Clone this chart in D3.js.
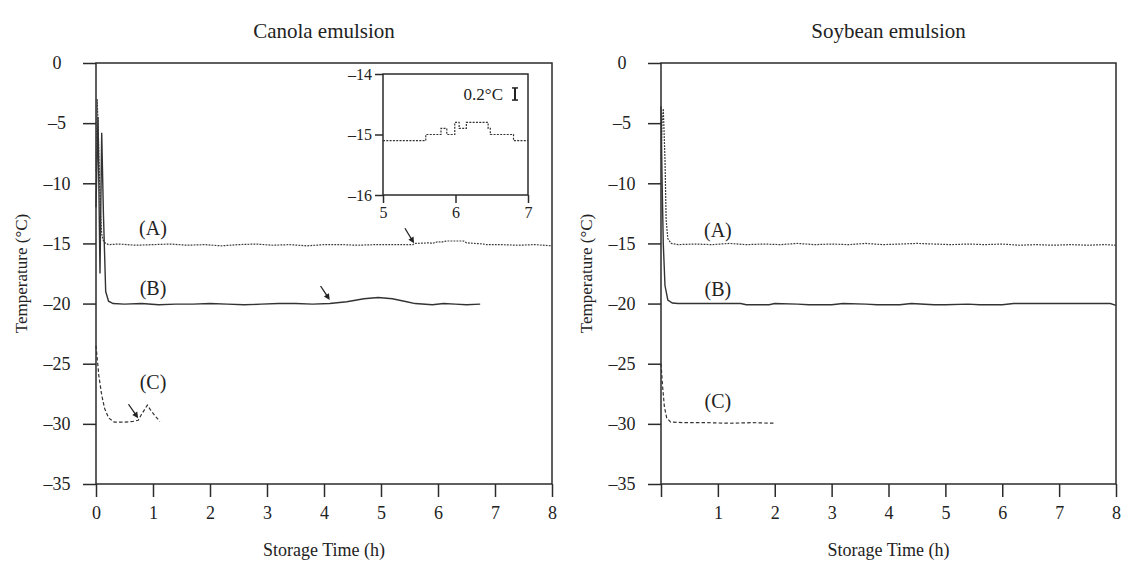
<!DOCTYPE html>
<html>
<head>
<meta charset="utf-8">
<script src="https://cdn.jsdelivr.net/npm/d3@7"></script>
<style>
  html, body { margin: 0; padding: 0; background: #fff; }
  svg { display: block; font-family: "Liberation Serif", "Times New Roman", serif; }
</style>
</head>
<body>
<svg id="chart" width="1128" height="565"></svg>
<script>
// ---- Canola emulsion: temperature (°C) vs storage time (h) ----
const canolaA_t = [0, 0.02, 0.04, 0.06, 0.08, 0.1, 0.13, 0.17, 0.22, 0.4, 0.7, 1.0, 1.3, 1.6, 1.9, 2.2, 2.5, 2.8, 3.1, 3.4, 3.7, 4.0, 4.3, 4.6, 4.9, 5.2, 5.56, 5.6, 5.85, 5.9, 6.0, 6.05, 6.15, 6.45, 6.5, 6.8, 6.85, 7.1, 7.4, 7.7, 8.0];
const canolaA_v = [-9.0, -3.0, -5.5, -9.5, -12.5, -14.2, -14.8, -15.0, -15.1, -15.05, -15.15, -15.1, -15.05, -15.15, -15.1, -15.2, -15.1, -15.05, -15.15, -15.1, -15.2, -15.1, -15.1, -15.15, -15.1, -15.1, -15.1, -15.0, -14.95, -15.0, -14.85, -14.9, -14.8, -14.8, -14.95, -15.05, -15.1, -15.1, -15.15, -15.1, -15.2];

const canolaB_t = [0, 0.035, 0.07, 0.1, 0.13, 0.17, 0.22, 0.3, 0.5, 0.8, 1.1, 1.4, 1.7, 2.0, 2.3, 2.6, 2.9, 3.2, 3.5, 3.8, 4.1, 4.4, 4.7, 4.95, 5.2, 5.45, 5.6, 5.9, 6.1, 6.3, 6.5, 6.74];
const canolaB_v = [-12.0, -4.5, -17.5, -5.8, -12.5, -19.0, -19.8, -20.0, -20.05, -20.0, -20.1, -20.05, -20.05, -20.0, -20.05, -20.1, -20.05, -20.0, -20.0, -20.05, -20.0, -19.85, -19.6, -19.5, -19.6, -19.85, -20.0, -20.1, -20.0, -20.05, -20.1, -20.05];

const canolaC_t = [0, 0.05, 0.1, 0.15, 0.22, 0.32, 0.5, 0.65, 0.74, 0.8, 0.9, 0.95, 1.03, 1.12];
const canolaC_v = [-23.5, -26.0, -27.6, -28.7, -29.5, -29.85, -29.85, -29.8, -29.7, -29.2, -28.45, -28.8, -29.3, -29.8];

// Inset: close-up of curve (A) between 5 and 7 h
const insetA_t = [5.0, 5.59, 5.59, 5.8, 5.8, 5.88, 5.88, 5.99, 5.99, 6.05, 6.05, 6.15, 6.15, 6.45, 6.45, 6.48, 6.48, 6.8, 6.8, 7.0];
const insetA_v = [-15.1, -15.1, -15.0, -15.0, -14.9, -14.9, -15.0, -15.0, -14.8, -14.8, -14.9, -14.9, -14.8, -14.8, -14.9, -14.9, -15.0, -15.0, -15.1, -15.1];

// ---- Soybean emulsion ----
const soyA_t = [0, 0.02, 0.04, 0.07, 0.09, 0.12, 0.18, 0.3, 0.6, 0.9, 1.2, 1.5, 1.8, 2.1, 2.4, 2.7, 3.0, 3.3, 3.6, 3.9, 4.2, 4.5, 4.8, 5.1, 5.4, 5.7, 6.0, 6.3, 6.6, 6.9, 7.2, 7.5, 7.8, 8.0];
const soyA_v = [-8.0, -5.0, -3.8, -8.0, -13.0, -14.6, -15.0, -15.1, -15.05, -15.1, -15.0, -15.1, -15.05, -15.1, -15.0, -15.1, -15.05, -15.1, -15.0, -15.1, -15.05, -15.0, -15.05, -15.1, -15.05, -15.1, -15.05, -15.15, -15.1, -15.15, -15.1, -15.15, -15.1, -15.15];

const soyB_t = [0, 0.02, 0.04, 0.07, 0.12, 0.2, 0.3, 0.6, 1.0, 1.4, 1.5, 1.9, 2.0, 2.4, 2.6, 3.0, 3.2, 3.6, 3.8, 4.2, 4.4, 4.8, 5.0, 5.4, 5.6, 6.0, 6.2, 7.0, 7.9, 8.0];
const soyB_v = [-3.6, -10.0, -15.0, -18.5, -19.7, -19.95, -20.0, -20.0, -20.0, -20.0, -20.1, -20.1, -20.0, -20.05, -20.1, -20.1, -20.0, -20.05, -20.1, -20.1, -20.0, -20.1, -20.1, -20.05, -20.1, -20.1, -20.0, -20.0, -20.0, -20.15];

const soyC_t = [0, 0.03, 0.06, 0.1, 0.17, 0.4, 0.8, 1.2, 1.6, 2.0];
const soyC_v = [-25.0, -27.0, -28.6, -29.5, -29.85, -29.9, -29.9, -29.95, -29.9, -29.95];

// Tick values and labels
const yTicks = [0, -5, -10, -15, -20, -25, -30, -35];
const xTicks = [0, 1, 2, 3, 4, 5, 6, 7, 8];
const insetYTicks = [-14, -15, -16];
const insetXTicks = [5, 6, 7];
const titles = ["Canola emulsion", "Soybean emulsion"];
const curveNames = ["(A)", "(B)", "(C)"];

const zip = (t, v) => t.map((d, i) => [d, v[i]]);

const svg = d3.select("#chart");
const ink = "#2b2b2b";

const plotTop = 63, plotBottom = 484;
const panels = [
  { x0: 96, x1: 552, title: titles[0], skipZero: false,
    curves: [zip(canolaA_t, canolaA_v), zip(canolaB_t, canolaB_v), zip(canolaC_t, canolaC_v)],
    labelY: [228, 288, 382] },
  { x0: 661, x1: 1116, title: titles[1], skipZero: true,
    curves: [zip(soyA_t, soyA_v), zip(soyB_t, soyB_v), zip(soyC_t, soyC_v)],
    labelY: [230, 289, 401] }
];

const styles = [
  { dash: "1.8,1.2", width: 1.2, color: "#3a3a3a" },
  { dash: null, width: 1.4, color: "#333" },
  { dash: "3.5,2.2", width: 1.2, color: "#333" }
];

panels.forEach((p, pi) => {
  const x = d3.scaleLinear().domain([0, 8]).range([p.x0, p.x1]);
  const y = d3.scaleLinear().domain([-35, 0]).range([plotBottom, plotTop]);
  const g = svg.append("g");

  // frame
  g.append("rect").attr("x", p.x0).attr("y", plotTop)
    .attr("width", p.x1 - p.x0).attr("height", plotBottom - plotTop)
    .attr("fill", "none").attr("stroke", ink).attr("stroke-width", 1.5);

  // y axis
  const ya = g.append("g").attr("transform", `translate(${p.x0},0)`)
    .call(d3.axisLeft(y).tickValues(yTicks).tickSize(13).tickFormat(d => d === 0 ? "0" : "\u2013" + Math.abs(d)));
  ya.select(".domain").remove();
  ya.selectAll("line").attr("stroke", ink).attr("stroke-width", 1.5);
  ya.selectAll("text").attr("x", -39).attr("text-anchor", "middle")
    .attr("font-size", 18).attr("fill", "#222").attr("font-family", "Liberation Serif");

  // x axis
  const xa = g.append("g").attr("transform", `translate(0,${plotBottom})`)
    .call(d3.axisBottom(x).tickValues(xTicks).tickSize(13).tickPadding(9)
      .tickFormat(d => (p.skipZero && d === 0) ? "" : String(d)));
  xa.select(".domain").remove();
  xa.selectAll("line").attr("stroke", ink).attr("stroke-width", 1.5);
  xa.selectAll("text").attr("font-size", 18).attr("fill", "#222").attr("font-family", "Liberation Serif");

  // titles
  g.append("text").attr("x", (p.x0 + p.x1) / 2).attr("y", 38)
    .attr("text-anchor", "middle").attr("font-size", 21).attr("fill", "#222").text(p.title);
  g.append("text").attr("x", (p.x0 + p.x1) / 2).attr("y", 556)
    .attr("text-anchor", "middle").attr("font-size", 18).attr("fill", "#222").text("Storage Time (h)");
  g.append("text")
    .attr("transform", `translate(${p.x0 - 75},${(plotTop + plotBottom) / 2}) rotate(-90)`)
    .attr("text-anchor", "middle").attr("dy", "0.35em").attr("font-size", 17).attr("fill", "#222")
    .text("Temperature (\u00B0C)");

  // curves
  const line = d3.line().x(d => x(d[0])).y(d => y(d[1]));
  p.curves.forEach((c, ci) => {
    const s = styles[ci];
    g.append("path").datum(c).attr("d", line)
      .attr("fill", "none").attr("stroke", s.color).attr("stroke-width", s.width)
      .attr("stroke-dasharray", s.dash);
  });

  // curve labels
  curveNames.forEach((n, i) => {
    g.append("text").attr("x", x(1.0)).attr("y", p.labelY[i]).attr("dy", "0.35em")
      .attr("text-anchor", "middle").attr("font-size", 20).attr("fill", "#222").text(n);
  });

  if (pi === 0) {
    // arrows marking the onset of the temperature rise
    const arrows = [
      [[5.42, -13.74], [5.58, -14.99]],
      [[3.94, -18.54], [4.10, -19.70]],
      [[0.57, -28.37], [0.74, -29.53]]
    ];
    arrows.forEach(([a, b]) => {
      const x1 = x(a[0]), y1 = y(a[1]), x2 = x(b[0]), y2 = y(b[1]);
      const ang = Math.atan2(y2 - y1, x2 - x1);
      g.append("line").attr("x1", x1).attr("y1", y1).attr("x2", x2 - 3 * Math.cos(ang)).attr("y2", y2 - 3 * Math.sin(ang))
        .attr("stroke", "#222").attr("stroke-width", 1.3);
      const L = 6, W = 3;
      const bx = x2 - L * Math.cos(ang), by = y2 - L * Math.sin(ang);
      const pts = [[x2, y2], [bx + W * Math.sin(ang), by - W * Math.cos(ang)], [bx - W * Math.sin(ang), by + W * Math.cos(ang)]];
      g.append("polygon").attr("points", pts.map(q => q.join(",")).join(" ")).attr("fill", "#222");
    });

    // inset
    const ix = d3.scaleLinear().domain([5, 7]).range([383, 528]);
    const iy = d3.scaleLinear().domain([-16, -14]).range([195, 74]);
    const ig = g.append("g");
    ig.append("rect").attr("x", 383).attr("y", 74).attr("width", 145).attr("height", 121)
      .attr("fill", "#fff").attr("stroke", ink).attr("stroke-width", 1.5);
    const iya = ig.append("g").attr("transform", "translate(383,0)")
      .call(d3.axisLeft(iy).tickValues(insetYTicks).tickSize(8).tickPadding(3).tickFormat(d => "\u2013" + Math.abs(d)));
    iya.select(".domain").remove();
    iya.selectAll("line").attr("stroke", ink).attr("stroke-width", 1.5);
    iya.selectAll("text").attr("font-size", 16).attr("fill", "#222").attr("font-family", "Liberation Serif");
    const ixa = ig.append("g").attr("transform", "translate(0,195)")
      .call(d3.axisBottom(ix).tickValues(insetXTicks).tickSize(8).tickPadding(4).tickFormat(d3.format("d")));
    ixa.select(".domain").remove();
    ixa.selectAll("line").attr("stroke", ink).attr("stroke-width", 1.5);
    ixa.selectAll("text").attr("font-size", 16).attr("fill", "#222").attr("font-family", "Liberation Serif");

    const iline = d3.line().x(d => ix(d[0])).y(d => iy(d[1]));
    ig.append("path").datum(zip(insetA_t, insetA_v)).attr("d", iline)
      .attr("fill", "none").attr("stroke", "#333").attr("stroke-width", 1.2).attr("stroke-dasharray", "2,1.3");

    // 0.2 °C scale bar
    const barX = 515, barMid = 94;
    const half = Math.abs(iy(-14.0) - iy(-14.2)) / 2;
    ig.append("text").attr("x", 503).attr("y", barMid).attr("dy", "0.35em")
      .attr("text-anchor", "end").attr("font-size", 17).attr("fill", "#222").text("0.2\u00B0C");
    ig.append("line").attr("x1", barX).attr("x2", barX).attr("y1", barMid - half).attr("y2", barMid + half)
      .attr("stroke", "#222").attr("stroke-width", 2);
    [barMid - half, barMid + half].forEach(yy => {
      ig.append("line").attr("x1", barX - 3).attr("x2", barX + 3).attr("y1", yy).attr("y2", yy)
        .attr("stroke", "#222").attr("stroke-width", 1.5);
    });
  }
});
</script>
</body>
</html>
